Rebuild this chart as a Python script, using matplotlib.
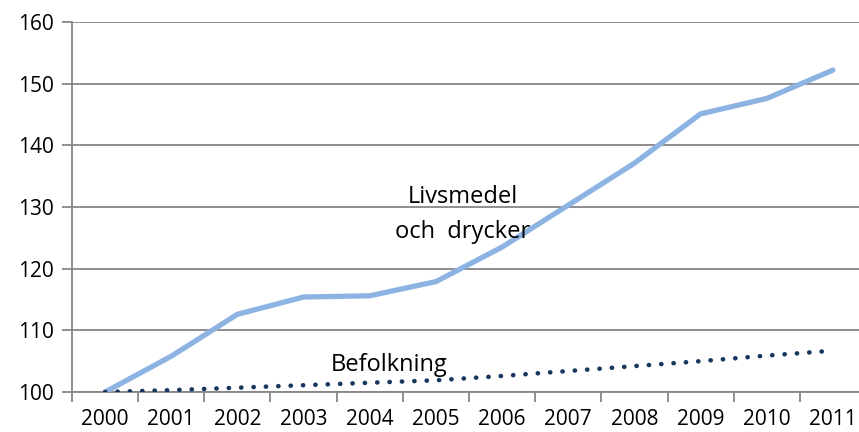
import matplotlib.pyplot as plt
import numpy as np

years = ["2000", "2001", "2002", "2003", "2004", "2005",
         "2006", "2007", "2008", "2009", "2010", "2011"]
livsmedel = [100.0, 105.8, 112.6, 115.4, 115.6, 117.9,
             123.5, 130.3, 137.1, 145.1, 147.6, 152.2]
befolkning = [100.0, 100.3, 100.7, 101.1, 101.5, 101.9,
              102.6, 103.4, 104.2, 105.0, 105.9, 106.7]

plt.rcParams['font.family'] = ['Open Sans', 'DejaVu Sans']

fig = plt.figure(figsize=(8.59, 4.32), dpi=100)
ax = fig.add_axes([72/859, 40/432, 794/859, 370/432])

x = np.arange(len(years))
grid_col = "#868686"

ax.plot(x, livsmedel, color="#8DB3E2", lw=3.8, solid_capstyle="round", zorder=3)
ax.plot(x, befolkning, color="#17375E", lw=3.3, linestyle=(0, (0.05, 2.65)),
        dash_capstyle="round", zorder=3)

ax.set_xlim(-0.5, len(years) - 0.5)
ax.set_ylim(100, 160)
ax.set_yticks(range(100, 161, 10))
ax.yaxis.grid(True, color=grid_col, lw=1.3)
ax.set_axisbelow(True)

# tick marks between categories, labels at centres
ax.set_xticks(np.arange(-0.5, len(years), 1.0))
ax.set_xticklabels([])
ax.set_xticks(x, minor=True)
ax.set_xticklabels(years, minor=True)
ax.tick_params(axis="x", which="major", length=7, width=1.3, color=grid_col, direction="out")
ax.tick_params(axis="x", which="minor", length=0, pad=12, labelsize=15)
ax.tick_params(axis="y", length=7, width=1.3, color=grid_col, labelsize=15, pad=6)

for s in ["top", "right"]:
    ax.spines[s].set_visible(False)
for s in ["left", "bottom"]:
    ax.spines[s].set_color(grid_col)
    ax.spines[s].set_linewidth(1.3)

ax.text(5.4, 131.6, "Livsmedel", fontsize=17, ha="center", va="center")
ax.text(5.4, 126.0, "och  drycker", fontsize=17, ha="center", va="center")
ax.text(4.3, 104.4, "Befolkning", fontsize=17, ha="center", va="center")

fig.savefig("out.png", dpi=100)
